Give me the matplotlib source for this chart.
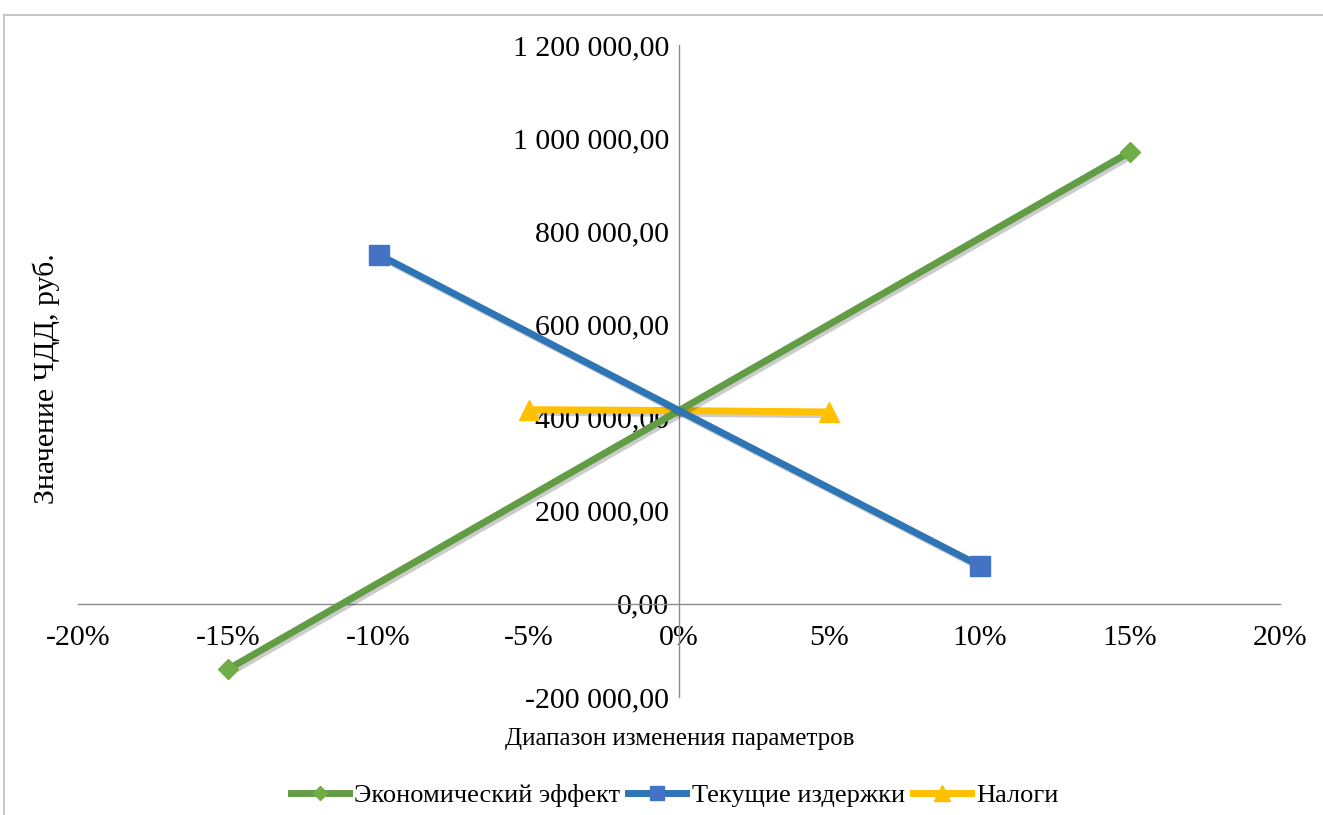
import numpy as np
import matplotlib.pyplot as plt
import matplotlib.patheffects as pe
from matplotlib.lines import Line2D
from matplotlib.ticker import FuncFormatter

plt.rcParams['font.family'] = ['Liberation Serif', 'DejaVu Serif']

# значения
x_eff = [-0.15, 0.0, 0.15]
y_eff = [-140000, 415000, 970000]
x_cost = [-0.10, 0.0, 0.10]
y_cost = [750000, 415000, 82000]
x_tax = [-0.05, 0.0, 0.05]
y_tax = [417000, 415000, 412000]

series_names = ['Экономический эффект', 'Текущие издержки', 'Налоги']

fig = plt.figure(figsize=(13.23, 8.15), dpi=100)
ax = fig.add_axes([0.059, 0.1448, 0.9085, 0.8])

shadow = [pe.SimpleLineShadow(offset=(2, -2), alpha=0.2), pe.Normal()]

styles = [
    (x_eff, y_eff, '#629C44', 'D', 10, '#70AD47', 3),
    (x_cost, y_cost, '#2E75B6', 's', 14, '#4472C4', 4),
    (x_tax, y_tax, '#FFC000', '^', 15, '#FFC000', 2),
]
handles = []
for (xs, ys, lc, mk, ms, mc, z), name in zip(styles, series_names):
    ax.plot(xs, ys, color=lc, lw=5, path_effects=shadow, zorder=z,
            solid_capstyle='butt')
    ax.plot([xs[0], xs[-1]], [ys[0], ys[-1]], ls='none', marker=mk, ms=ms,
            mfc=mc, mec=mc, zorder=z + 0.5)
    handles.append(Line2D([], [], color=lc, lw=5, marker=mk, ms=ms * 0.75,
                          mfc=mc, mec=mc))

ax.set_xlim(-0.2, 0.2)
ax.set_ylim(-200000, 1200000)
ax.set_xticks(np.arange(-0.2, 0.21, 0.05))
ax.set_yticks(np.arange(-200000, 1200001, 200000))


def fmt_y(v, pos):
    s = f"{abs(v):,.2f}".replace(',', ' ').replace('.', ',')
    return ('-' if v < 0 else '') + s


ax.xaxis.set_major_formatter(FuncFormatter(lambda v, p: f"{round(v * 100):d}%"))
ax.yaxis.set_major_formatter(FuncFormatter(fmt_y))

for side in ['top', 'right']:
    ax.spines[side].set_visible(False)
ax.spines['left'].set_position(('data', 0))
ax.spines['bottom'].set_position(('data', 0))
for side in ['left', 'bottom']:
    ax.spines[side].set_color('#8C8C8C')
    ax.spines[side].set_linewidth(1.0)

ax.tick_params(axis='x', length=0, pad=15, labelsize=21.5)
ax.tick_params(axis='y', length=0, pad=7, labelsize=21.5)

fig.text(0.035, 0.535, 'Значение ЧДД, руб.', rotation=90, ha='center', va='center', fontsize=21.5)
fig.text(0.514, 0.093, 'Диапазон изменения параметров', ha='center', va='center', fontsize=18)

ax.legend(handles, series_names, loc='center', bbox_to_anchor=(0.51, 0.0245),
          bbox_transform=fig.transFigure, ncol=3, frameon=False, fontsize=19,
          handlelength=2.2, handletextpad=0.2, columnspacing=0.3)

# рамка области диаграммы
fig.add_artist(plt.Line2D([0.003, 1.0], [0.981, 0.981], transform=fig.transFigure,
                          color='#BFBFBF', lw=1.2))
fig.add_artist(plt.Line2D([0.003, 0.003], [0.0, 0.981], transform=fig.transFigure,
                          color='#BFBFBF', lw=1.2))

plt.savefig('out.png', dpi=100)
